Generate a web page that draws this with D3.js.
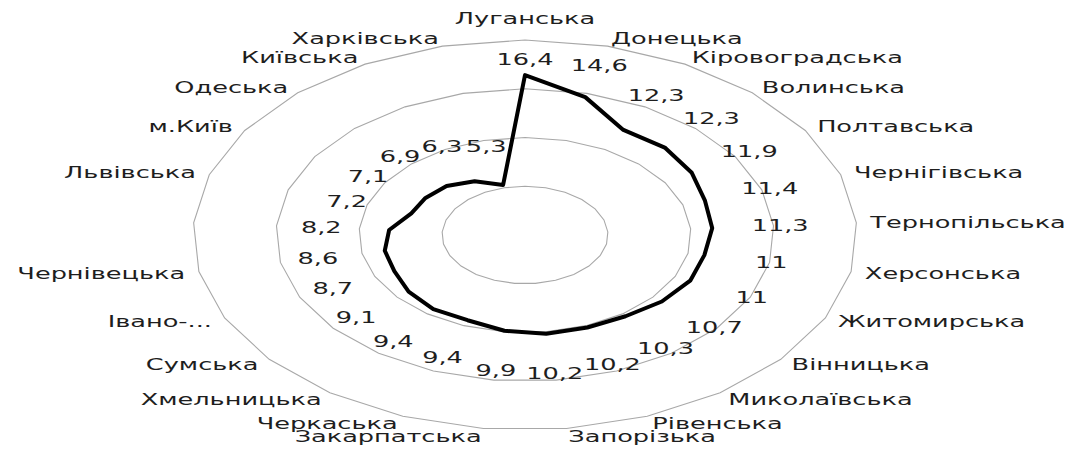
<!DOCTYPE html>
<html><head><meta charset="utf-8">
<script src="https://cdn.jsdelivr.net/npm/d3@7"></script>
<style>body{margin:0;background:#fff}svg{display:block}</style>
</head><body><svg id="c" width="1076" height="450"></svg>
<script>
const categories = ["Луганська","Донецька","Кіровоградська","Волинська","Полтавська","Чернігівська","Тернопільська","Херсонська","Житомирська","Вінницька","Миколаївська","Рівенська","Запорізька","Закарпатська","Черкаська","Хмельницька","Сумська","Івано-Франківська","Чернівецька","Дніпропетровська","Львівська","м.Київ","Одеська","Київська","Харківська"];
const tickLabels = ["Луганська","Донецька","Кіровоградська","Волинська","Полтавська","Чернігівська","Тернопільська","Херсонська","Житомирська","Вінницька","Миколаївська","Рівенська","Запорізька","Закарпатська","Черкаська","Хмельницька","Сумська","Івано-...","Чернівецька","","Львівська","м.Київ","Одеська","Київська","Харківська"];
const values = [16.4,14.6,12.3,12.3,11.9,11.4,11.3,11,11,10.7,10.3,10.2,10.2,9.9,9.4,9.4,9.1,8.7,8.6,8.2,7.2,7.1,6.9,6.3,5.3];
const gridLevels = [5,10,15,20];

const svg = d3.select("#c");
const cx = 525, cy = 235;
const n = categories.length;
const ang = d3.scaleLinear().domain([0, n]).range([0, 2 * Math.PI]);
const rX = d3.scaleLinear().domain([0, 20]).range([0, 332]);
const rY = d3.scaleLinear().domain([0, 20]).range([0, 195]);
const pt = (i, v) => { const a = ang(i); return [cx + rX(v) * Math.sin(a), cy - rY(v) * Math.cos(a)]; };
const closed = d3.line().curve(d3.curveLinearClosed);
const SX = 1.6;
const fmt = v => String(v).replace(".", ",");

// grid
svg.append("g").selectAll("path").data(gridLevels).join("path")
  .attr("d", lv => closed(categories.map((c, i) => pt(i, lv))))
  .attr("fill", "none").attr("stroke", "#a8a8a8").attr("stroke-width", 1.1);

// data line
svg.append("path")
  .attr("d", closed(values.map((v, i) => pt(i, v))))
  .attr("fill", "none").attr("stroke", "#000").attr("stroke-width", 4)
  .attr("stroke-linejoin", "round");

// value labels
svg.append("g").selectAll("text").data(values).join("text")
  .attr("transform", (v, i) => { const p = pt(i, Math.min(v + 4.1, 18)); return `translate(${p[0]},${p[1]}) scale(${SX},1)`; })
  .attr("text-anchor", "middle").attr("dominant-baseline", "central")
  .attr("font-family", "DejaVu Sans").attr("font-size", 16).attr("fill", "#1e1e1e")
  .text(v => fmt(v));

// category labels
svg.append("g").selectAll("text").data(tickLabels).join("text")
  .attr("transform", (t, i) => {
    const a = ang(i), s = Math.sin(a), c = Math.cos(a);
    const p = pt(i, 20);
    let x = p[0] + 14 * s, y = p[1] - 8 * c;
    if (Math.abs(s) < 0.01) y -= 14 * Math.sign(c);
    return `translate(${x},${y}) scale(${SX},1)`;
  })
  .attr("text-anchor", (t, i) => { const s = Math.sin(ang(i)); return Math.abs(s) < 0.01 ? "middle" : (s > 0 ? "start" : "end"); })
  .attr("dominant-baseline", "central")
  .attr("font-family", "DejaVu Sans").attr("font-size", 16).attr("fill", "#1e1e1e")
  .text(t => t);
</script></body></html>
